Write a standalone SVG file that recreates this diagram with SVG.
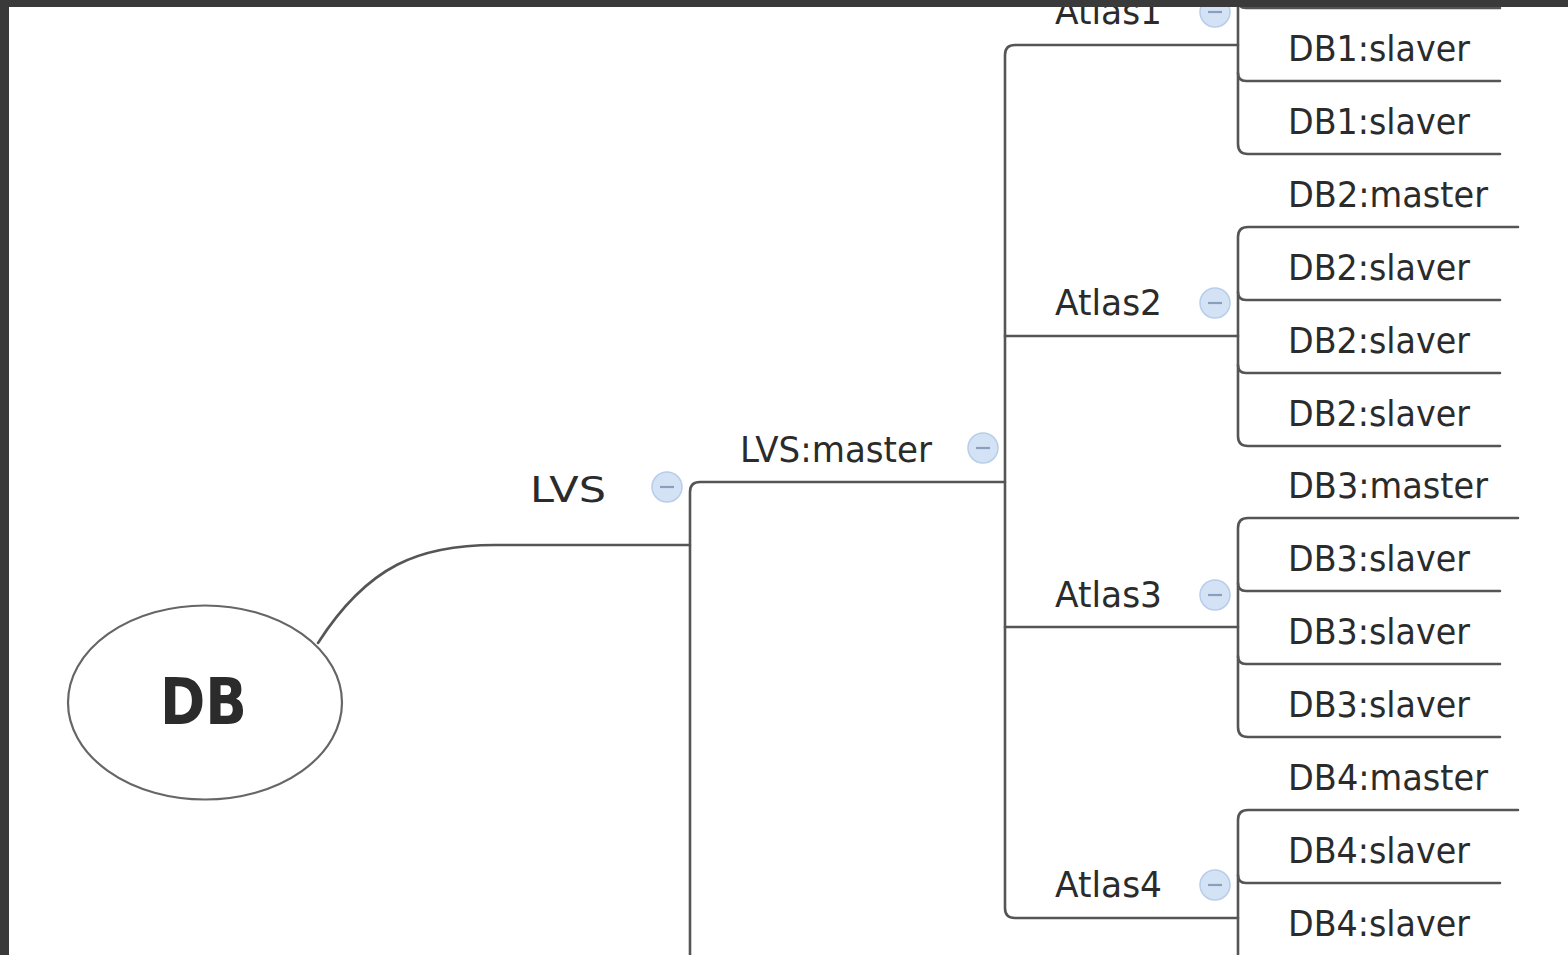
<svg xmlns="http://www.w3.org/2000/svg" width="1568" height="955" viewBox="0 0 1568 955">
<style>
.ln{fill:none;stroke:#555;stroke-width:2.6;stroke-linecap:round}
.t{font-family:"DejaVu Sans","Liberation Sans",sans-serif;fill:#2b2b2b;font-size:36px}
.tb{font-family:"DejaVu Sans","Liberation Sans",sans-serif;fill:#2b2b2b;font-weight:bold;font-size:64px}
.c{fill:#d3e2f5;stroke:#b8cde9;stroke-width:1.5}
.m{stroke:#8b9fbd;stroke-width:2.2}
</style>
<defs>
<g id="tog"><circle class="c" r="15"/><line class="m" x1="-7" y1="0" x2="7" y2="0"/></g>
</defs>
<rect width="1568" height="955" fill="#ffffff"/>
<g id="connectors">
<path class="ln" d="M318,643 C368,565 420,545 495,545 L690,545"/>
<path class="ln" d="M690,960 L690,492 Q690,482 700,482 L1005,482"/>
<path class="ln" d="M1238,45 L1015,45 Q1005,45 1005,55 L1005,908 Q1005,918 1015,918 L1238,918"/>
<path class="ln" d="M1005,336 L1238,336"/>
<path class="ln" d="M1005,627 L1238,627"/>
<!-- DB1 bracket -->
<path class="ln" d="M1238,-10 L1238,144 Q1238,154 1248,154 L1500,154"/>
<path class="ln" d="M1238,0 Q1238,8 1246,8 L1500,8"/>
<path class="ln" d="M1238,73 Q1238,81 1246,81 L1500,81"/>
<!-- DB2 bracket -->
<path class="ln" d="M1518,227 L1248,227 Q1238,227 1238,237 L1238,436 Q1238,446 1248,446 L1500,446"/>
<path class="ln" d="M1238,292 Q1238,300 1246,300 L1500,300"/>
<path class="ln" d="M1238,365 Q1238,373 1246,373 L1500,373"/>
<!-- DB3 bracket -->
<path class="ln" d="M1518,518 L1248,518 Q1238,518 1238,528 L1238,727 Q1238,737 1248,737 L1500,737"/>
<path class="ln" d="M1238,583 Q1238,591 1246,591 L1500,591"/>
<path class="ln" d="M1238,656 Q1238,664 1246,664 L1500,664"/>
<!-- DB4 bracket -->
<path class="ln" d="M1518,810 L1248,810 Q1238,810 1238,820 L1238,960"/>
<path class="ln" d="M1238,875 Q1238,883 1246,883 L1500,883"/>
</g>
<g id="node-db">
<ellipse cx="205" cy="702.5" rx="137" ry="97" fill="#ffffff" stroke="#666" stroke-width="2.2"/>
<text class="tb" x="160" y="724" textLength="87" lengthAdjust="spacingAndGlyphs">DB</text>
</g>
<g id="node-lvs">
<text class="t" x="530" y="502" font-size="49" textLength="76" lengthAdjust="spacingAndGlyphs">LVS</text>
<use href="#tog" x="667" y="487"/>
</g>
<g id="node-lvs-master">
<text class="t" x="740" y="462" font-size="37" textLength="192" lengthAdjust="spacingAndGlyphs">LVS:master</text>
<use href="#tog" x="983" y="448"/>
</g>
<g id="node-atlas1"><text class="t" x="1055" y="24" font-size="37" textLength="107" lengthAdjust="spacingAndGlyphs">Atlas1</text><use href="#tog" x="1215" y="12"/></g>
<g id="node-atlas2"><text class="t" x="1055" y="315" font-size="37" textLength="107" lengthAdjust="spacingAndGlyphs">Atlas2</text><use href="#tog" x="1215" y="303"/></g>
<g id="node-atlas3"><text class="t" x="1055" y="607" font-size="37" textLength="107" lengthAdjust="spacingAndGlyphs">Atlas3</text><use href="#tog" x="1215" y="595"/></g>
<g id="node-atlas4"><text class="t" x="1055" y="897" font-size="37" textLength="107" lengthAdjust="spacingAndGlyphs">Atlas4</text><use href="#tog" x="1215" y="885"/></g>
<g id="node-db1-slaver-a"><text class="t" x="1288" y="61" textLength="182" lengthAdjust="spacingAndGlyphs">DB1:slaver</text></g>
<g id="node-db1-slaver-b"><text class="t" x="1288" y="134" textLength="182" lengthAdjust="spacingAndGlyphs">DB1:slaver</text></g>
<g id="node-db2-master"><text class="t" x="1288" y="207" textLength="200" lengthAdjust="spacingAndGlyphs">DB2:master</text></g>
<g id="node-db2-slaver-a"><text class="t" x="1288" y="280" textLength="182" lengthAdjust="spacingAndGlyphs">DB2:slaver</text></g>
<g id="node-db2-slaver-b"><text class="t" x="1288" y="353" textLength="182" lengthAdjust="spacingAndGlyphs">DB2:slaver</text></g>
<g id="node-db2-slaver-c"><text class="t" x="1288" y="426" textLength="182" lengthAdjust="spacingAndGlyphs">DB2:slaver</text></g>
<g id="node-db3-master"><text class="t" x="1288" y="498" textLength="200" lengthAdjust="spacingAndGlyphs">DB3:master</text></g>
<g id="node-db3-slaver-a"><text class="t" x="1288" y="571" textLength="182" lengthAdjust="spacingAndGlyphs">DB3:slaver</text></g>
<g id="node-db3-slaver-b"><text class="t" x="1288" y="644" textLength="182" lengthAdjust="spacingAndGlyphs">DB3:slaver</text></g>
<g id="node-db3-slaver-c"><text class="t" x="1288" y="717" textLength="182" lengthAdjust="spacingAndGlyphs">DB3:slaver</text></g>
<g id="node-db4-master"><text class="t" x="1288" y="790" textLength="200" lengthAdjust="spacingAndGlyphs">DB4:master</text></g>
<g id="node-db4-slaver-a"><text class="t" x="1288" y="863" textLength="182" lengthAdjust="spacingAndGlyphs">DB4:slaver</text></g>
<g id="node-db4-slaver-b"><text class="t" x="1288" y="936" textLength="182" lengthAdjust="spacingAndGlyphs">DB4:slaver</text></g>
<g id="frame">
<rect x="0" y="0" width="1568" height="7" fill="#3a3a3a"/>
<rect x="0" y="0" width="9" height="955" fill="#3a3a3a"/>
</g>
</svg>
